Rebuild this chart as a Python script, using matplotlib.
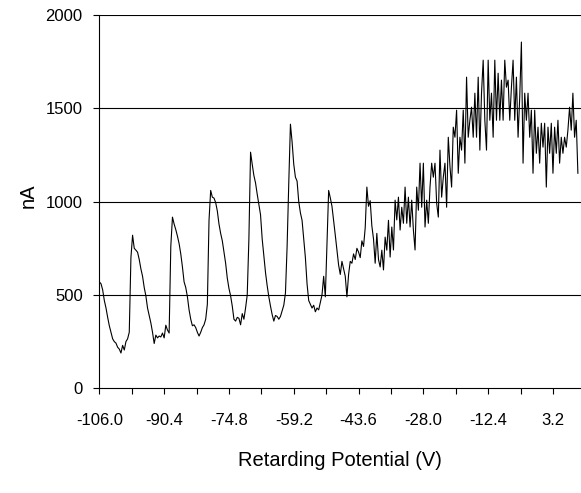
import numpy as np
import matplotlib
matplotlib.use("Agg")
import matplotlib.pyplot as plt

plt.rcParams['font.family'] = ['Liberation Sans', 'DejaVu Sans']

# ---------------- data ----------------
v_start = -106.0   # first retarding potential (V)
v_step = 0.4       # spacing of the samples (V)

current_nA = [
    570, 560, 527, 470, 430, 380, 335, 300, 265, 250,
    242, 220, 210, 189, 230, 205, 250, 265, 300, 700,
    820, 750, 740, 729, 690, 640, 600, 540, 495, 430,
    390, 350, 300, 240, 285, 270, 280, 275, 296, 270,
    338, 312, 296, 760, 917, 880, 850, 815, 775, 720,
    650, 570, 540, 490, 420, 370, 335, 340, 325, 300,
    280, 300, 325, 340, 370, 450, 900, 1060, 1024, 1019,
    995, 950, 880, 830, 790, 730, 670, 590, 535, 495,
    440, 370, 360, 380, 375, 340, 400, 370, 430, 500,
    800, 1265, 1200, 1140, 1100, 1040, 985, 930, 800, 710,
    620, 550, 490, 440, 395, 360, 390, 385, 370, 385,
    415, 445, 510, 760, 1100, 1415, 1320, 1200, 1131, 1110,
    1000, 940, 900, 800, 700, 560, 470, 450, 430, 445,
    410, 430, 420, 460, 500, 600, 490, 780, 1060, 1020,
    975, 900, 820, 740, 660, 610, 680, 640, 600, 490,
    610, 680, 670, 720, 690, 750, 730, 700, 790, 760,
    860, 1078, 975, 1005, 870, 800, 670, 830, 690, 650,
    740, 634, 810, 740, 900, 703, 864, 741, 1008, 902,
    1024, 848, 970, 884, 1078, 884, 1024, 864, 1008, 848,
    741, 1078, 954, 1206, 970, 1206, 864, 1008, 884, 1078,
    1206, 1131, 1206, 992, 917, 1276, 1024, 1131, 1206, 970,
    1345, 1190, 1078, 1399, 1345, 1490, 1152, 1345, 1276, 1490,
    1206, 1667, 1345, 1436, 1506, 1345, 1581, 1345, 1667, 1276,
    1581, 1758, 1436, 1276, 1758, 1436, 1581, 1345, 1758, 1436,
    1688, 1436, 1651, 1436, 1758, 1613, 1651, 1436, 1613, 1758,
    1436, 1667, 1345, 1560, 1855, 1206, 1581, 1436, 1581, 1345,
    1490, 1152, 1490, 1259, 1399, 1206, 1420, 1292, 1420, 1078,
    1399, 1259, 1420, 1152, 1399, 1259, 1436, 1206, 1345, 1259,
    1345, 1292, 1383, 1506, 1383, 1581, 1345, 1436, 1152,
]

x_ticks_major = [-106.0, -90.4, -74.8, -59.2, -43.6, -28.0, -12.4, 3.2]
x_tick_labels = ['-106.0', '-90.4', '-74.8', '-59.2', '-43.6', '-28.0', '-12.4', '3.2']
y_ticks = [0, 500, 1000, 1500, 2000]
# -------------------------------------------------------------

volts = v_start + v_step * np.arange(len(current_nA))

fig = plt.figure(figsize=(5.81, 4.93), dpi=100)
ax = fig.add_axes([0.171, 0.2124, 0.829, 0.7572])

ax.plot(volts, current_nA, color='black', linewidth=0.8)

ax.set_xlim(-106.0, 9.95)
ax.set_ylim(0, 2000)

ax.set_xticks(x_ticks_major)
ax.set_xticklabels(x_tick_labels)
ax.set_xticks(np.arange(-106.0 + 7.8, 10, 15.6), minor=True)
ax.set_yticks(y_ticks)

ax.tick_params(axis='x', which='both', direction='out', length=4,
               width=0.8, color='black', pad=14, labelsize=12)
ax.tick_params(axis='y', direction='out', length=4, width=0.8,
               color='black', pad=8, labelsize=12)

for y in y_ticks[1:]:
    ax.axhline(y, color='black', linewidth=0.8, zorder=0)

for side in ['top', 'right']:
    ax.spines[side].set_visible(False)
for side in ['left', 'bottom']:
    ax.spines[side].set_linewidth(0.8)
    ax.spines[side].set_color('black')

ax.set_xlabel('Retarding Potential (V)', fontsize=14.5, labelpad=16)
ax.set_ylabel('nA', fontsize=14.5)
ax.yaxis.set_label_coords(-0.128, 0.515)

fig.savefig('out.png', dpi=100)
